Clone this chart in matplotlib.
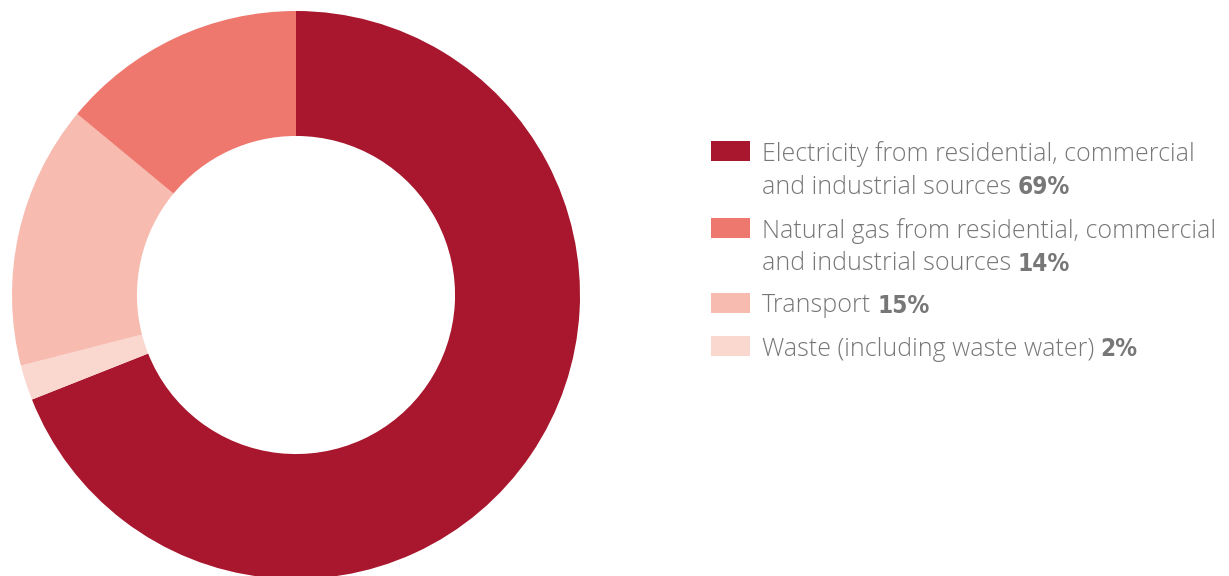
import matplotlib
matplotlib.use("Agg")
import matplotlib.pyplot as plt
from matplotlib.patches import Rectangle

# Data
labels = [
    ["Electricity from residential, commercial", "and industrial sources"],
    ["Natural gas from residential, commercial", "and industrial sources"],
    ["Transport"],
    ["Waste (including waste water)"],
]
shares = [69, 14, 15, 2]
colors = ["#A8172E", "#EE786E", "#F7BBB0", "#FAD7CF"]

# Pie order going clockwise from the top
pie_order = [0, 3, 2, 1]

W, H = 1229, 576
fig = plt.figure(figsize=(W / 100, H / 100), dpi=100)

# Donut
ax = fig.add_axes([12 / W, (H - 579) / H, 568 / W, 568 / H])
ax.pie([shares[i] for i in pie_order], colors=[colors[i] for i in pie_order],
       startangle=90, counterclock=False, radius=1,
       wedgeprops=dict(width=0.44, linewidth=0))
ax.set_xlim(-1, 1)
ax.set_ylim(-1, 1)
ax.set_aspect("equal")
ax.axis("off")

# Legend, drawn by hand so the percentage can use a different font
text_color = "#777777"
label_font = dict(family=["Open Sans", "DejaVu Sans"], weight="light", size=18)
pct_font = dict(family=["DejaVu Sans"], stretch="condensed", weight="bold", size=17.5)
row_tops = [151, 228, 303, 346]
line_gap = 33

fig.canvas.draw()
renderer = fig.canvas.get_renderer()
for lab, pct, col, yc in zip(labels, shares, colors, row_tops):
    fig.patches.append(Rectangle((711 / W, 1 - (yc + 10) / H), 39 / W, 20 / H,
                                 transform=fig.transFigure, facecolor=col,
                                 edgecolor="none"))
    for k, line in enumerate(lab):
        y = 1 - (yc + 3 + k * line_gap) / H
        t = fig.text(762 / W, y, line, color=text_color, va="center", ha="left",
                     **label_font)
    bb = t.get_window_extent(renderer)
    fig.text(bb.x1 / W + 6 / W, y, f"{pct}%", color=text_color, va="center",
             ha="left", **pct_font)

fig.savefig("out.png", dpi=100)
